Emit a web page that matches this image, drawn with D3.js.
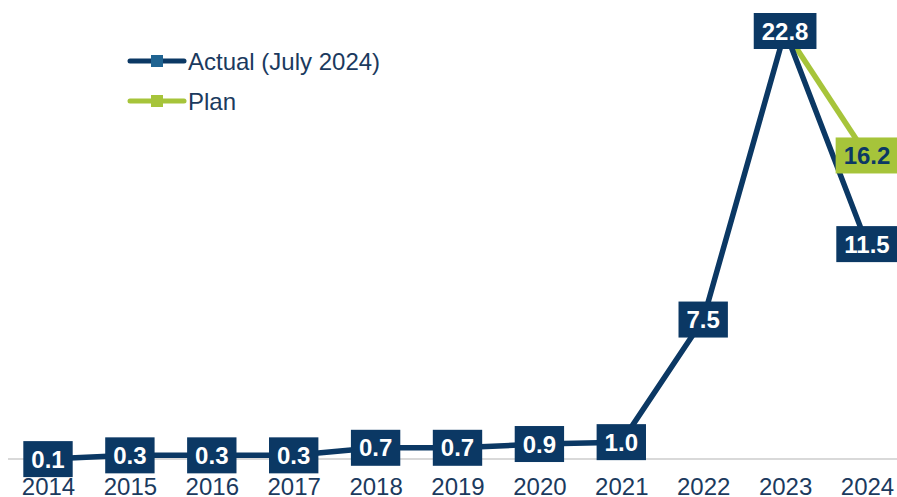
<!DOCTYPE html>
<html>
<head>
<meta charset="utf-8">
<script src="https://cdn.jsdelivr.net/npm/d3@7"></script>
<style>
  body { margin: 0; background: #fff; }
  svg { font-family: "Liberation Sans", Arial, sans-serif; }
</style>
</head>
<body>
<svg id="chart"></svg>
<script>
(function() {

var years = ['2014','2015','2016','2017','2018','2019','2020','2021','2022','2023','2024'];
var actual = [0.1, 0.3, 0.3, 0.3, 0.7, 0.7, 0.9, 1.0, 7.5, 22.8, 11.5];
var plan = [null, null, null, null, null, null, null, null, null, 22.8, 16.2];
var seriesNames = ['Actual (July 2024)', 'Plan'];

var W = 897, H = 497;
var navy = '#0b3864', green = '#a6c43a';

var svg = d3.select('#chart').attr('width', W).attr('height', H);

var x = d3.scalePoint().domain(years).range([48, 867]);
var y = d3.scaleLinear().domain([0, 22.8]).range([461, 31]);

// baseline
svg.append('line')
    .attr('x1', 8).attr('x2', W)
    .attr('y1', 459).attr('y2', 459)
    .attr('stroke', '#d9d9d9').attr('stroke-width', 2);

// year labels sit at the very bottom edge, as in the source chart
var xAxis = d3.axisBottom(x).tickSize(0).tickPadding(0);
var ax = svg.append('g').attr('transform', 'translate(0,495)').call(xAxis);
ax.select('.domain').remove();
ax.selectAll('text')
    .attr('dy', 0)
    .attr('fill', '#1b3a5e')
    .attr('font-size', 24)
    .attr('font-family', '"Liberation Sans", Arial, sans-serif');

var line = d3.line()
    .defined(function(d) { return d != null; })
    .x(function(d, i) { return x(years[i]); })
    .y(function(d) { return y(d); });

svg.append('path')
    .datum(plan)
    .attr('d', line)
    .attr('fill', 'none')
    .attr('stroke', green)
    .attr('stroke-width', 5.5);

svg.append('path')
    .datum(actual)
    .attr('d', line)
    .attr('fill', 'none')
    .attr('stroke', navy)
    .attr('stroke-width', 5.5)
    .attr('stroke-linejoin', 'round');

function labels(data, fill, textFill, skip) {
  var g = svg.append('g').selectAll('g')
      .data(data.map(function(d, i) { return {v: d, i: i}; })
        .filter(function(d) { return d.v != null && skip.indexOf(d.i) < 0; }))
      .enter().append('g')
      .attr('transform', function(d) { return 'translate(' + x(years[d.i]) + ',' + y(d.v) + ')'; });
  var t = g.append('text')
      .attr('text-anchor', 'middle')
      .attr('dy', '0.36em')
      .attr('font-size', 24)
      .attr('font-weight', 'bold')
      .attr('fill', textFill)
      .text(function(d) { return d.v.toFixed(1); });
  t.each(function() {
    var b = this.getBBox();
    d3.select(this.parentNode).insert('rect', 'text')
        .attr('x', b.x - 8).attr('y', -18)
        .attr('width', b.width + 16).attr('height', 36)
        .attr('fill', fill);
  });
}

labels(plan, green, navy, [9]);
labels(actual, navy, '#fff', []);

// legend
var legend = svg.append('g').selectAll('g')
    .data(seriesNames)
    .enter().append('g')
    .attr('transform', function(d, i) { return 'translate(128,' + (61 + i * 40) + ')'; });

legend.append('line')
    .attr('x1', 2).attr('x2', 56)
    .attr('stroke', function(d, i) { return i ? green : navy; })
    .attr('stroke-width', 5)
    .attr('stroke-linecap', 'round');

legend.append('rect')
    .attr('x', 23).attr('y', -6)
    .attr('width', 12).attr('height', 12)
    .attr('fill', function(d, i) { return i ? '#a6c43a' : '#1f6391'; });

legend.append('text')
    .attr('x', 60)
    .attr('dy', '0.36em')
    .attr('font-size', 24)
    .attr('fill', '#1b3a5e')
    .text(function(d) { return d; });

})();
</script>
</body>
</html>
